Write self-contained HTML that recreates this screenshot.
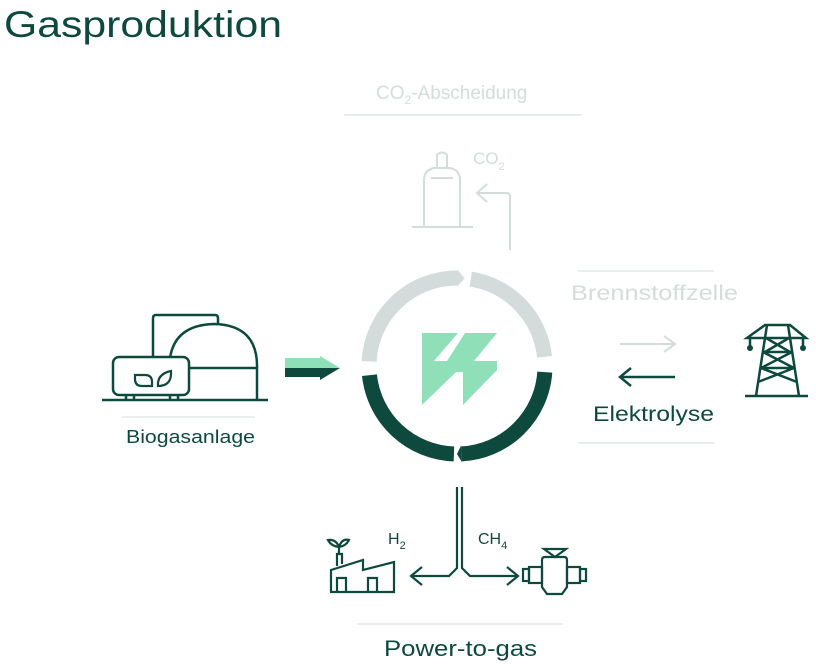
<!DOCTYPE html>
<html><head><meta charset="utf-8"><style>
html,body{margin:0;padding:0;background:#fff;}
svg{display:block}
text{font-family:"Liberation Sans",sans-serif}
</style></head><body>
<svg id="s" width="816" height="669" viewBox="0 0 816 669" xmlns="http://www.w3.org/2000/svg">
<text x="4" y="37" font-size="37" fill="#0d4a3d" textLength="278" lengthAdjust="spacingAndGlyphs">Gasproduktion</text>

<g fill="#d5dddb" stroke="none">
<text x="376" y="99" font-size="19">CO<tspan font-size="12" dy="5">2</tspan><tspan dy="-5">-Abscheidung</tspan></text>
<text x="473" y="164" font-size="17">CO<tspan font-size="11" dy="6">2</tspan></text>
</g>
<line x1="344" y1="115" x2="582" y2="115" stroke="#e3e8e7" stroke-width="1.5"/>
<g fill="none" stroke="#d5dddb" stroke-width="2">
<path d="M424,228 V180 Q424,170 434,168 H450 Q460,170 460,180 V228"/>
<line x1="412" y1="227" x2="473" y2="227"/>
<line x1="431" y1="178" x2="453" y2="178"/>
<path d="M437,167 V155 Q442,150 447,155 V167"/>
<path d="M510,250 V196 Q510,193 506,193 H478"/>
<path d="M487,184 L477,193 L487,202"/>
</g>

<line x1="578" y1="271" x2="714" y2="271" stroke="#e3e8e7" stroke-width="1.5"/>
<text x="571" y="300" font-size="21" fill="#d5dddb" textLength="167" lengthAdjust="spacingAndGlyphs">Brennstoffzelle</text>
<line x1="620" y1="344" x2="675" y2="344" stroke="#d5dddb" stroke-width="2"/>
<path d="M664,336 L675,344 L664,352" fill="none" stroke="#d5dddb" stroke-width="2"/>
<line x1="620" y1="377" x2="675" y2="377" stroke="#0d4a3d" stroke-width="2.5"/>
<path d="M631,368 L620,377 L631,386" fill="none" stroke="#0d4a3d" stroke-width="2.5"/>
<text x="593" y="421" font-size="21" fill="#0d4a3d" textLength="121" lengthAdjust="spacingAndGlyphs">Elektrolyse</text>
<line x1="578" y1="443" x2="714" y2="443" stroke="#e3e8e7" stroke-width="1.5"/>

<g fill="none" stroke="#0d4a3d" stroke-width="2.5">
<line x1="745" y1="396" x2="808" y2="396"/>
<path d="M765,325 H790 L806,338 H747 Z"/>
<line x1="750" y1="338" x2="750" y2="346"/>
<line x1="803" y1="338" x2="803" y2="346"/>
<path d="M767,325 L756,396 M788,325 L799,396"/>
<path d="M766,338 L790,352 M789,338 L765,352"/>
<path d="M763,352 H792 M763,352 L794,368 M792,352 L761,368 M761,368 H794 M761,368 L797,382 M794,368 L758,382"/>
</g>
<circle cx="750" cy="348" r="3" fill="#0d4a3d"/>
<circle cx="803" cy="348" r="3" fill="#0d4a3d"/>

<g fill="none" stroke="#0d4a3d" stroke-width="2.5">
<line x1="102" y1="400" x2="268" y2="400"/>
<path d="M153,358 V318 Q153,315 156,315 H215 Q218,315 218,318 V324"/>
<path d="M170,358 Q175,325 214,324 Q258,325 257,368 V400"/>
<line x1="190" y1="368" x2="257" y2="368"/>
<rect x="113" y="357" width="76" height="38" rx="6" fill="#fff"/>
<path d="M126,395 V400 M134,395 V400 M170,395 V400 M178,395 V400"/>
<path d="M135,375 H145 Q152,375 152,382 V386 H142 Q135,386 135,379 Z" stroke-width="2.2"/>
<path d="M158,386 Q157,374 171,371 Q172,386 158,386 Z" stroke-width="2.2"/>
</g>
<line x1="122" y1="417" x2="255" y2="417" stroke="#e3e8e7" stroke-width="1.5"/>
<text x="126" y="443" font-size="18" fill="#0d4a3d" textLength="129" lengthAdjust="spacingAndGlyphs">Biogasanlage</text>

<polygon points="285,358 320,358 320,356 340,368 320,368 285,368" fill="#8fe0b8"/>
<polygon points="285,368 340,368 320,380 320,377 285,377" fill="#0d4a3d"/>

<g id="ring"></g>
<g fill="#8fe0b8">
<polygon points="422,333 458,333 434,361 456,361 456,372 422,405"/>
<polygon points="465,333 497,333 474,361 497,361 497,370 463,405 463,372 440,372"/>
</g>

<g fill="none" stroke="#0d4a3d" stroke-width="2.2">
<path d="M457,487 V568 L449,576 H411"/>
<path d="M462,487 V568 L470,576 H518"/>
<path d="M422,567 L411,576 L422,585"/>
<path d="M507,567 L518,576 L507,585"/>
<path d="M331,592 V570 L363,560 V570 L394,562 V592 Z"/>
<path d="M337,592 V578 H346 V592 M368,592 V578 H377 V592"/>
<path d="M337,566 V554 H342 V564"/>
<path d="M339,554 V547"/>
<path d="M339,547 Q331,546 328,540 Q336,539 339,547 Q342,538 349,540 Q346,546 339,547"/>
<path d="M544,549 H566 L555,557 Z"/>
<path d="M542,560 Q542,557 545,557 H564 Q567,557 567,560 V587 L562,594 H547 L542,587 Z"/>
<rect x="529" y="567" width="13" height="16"/>
<rect x="523" y="569" width="6" height="12"/>
<rect x="567" y="567" width="13" height="16"/>
<rect x="580" y="569" width="6" height="12"/>
</g>
<text x="388" y="544" font-size="16" fill="#0d4a3d">H<tspan font-size="11" dy="5">2</tspan></text>
<text x="478" y="544" font-size="16" fill="#0d4a3d">CH<tspan font-size="11" dy="5">4</tspan></text>
<line x1="357" y1="624" x2="563" y2="624" stroke="#e3e8e7" stroke-width="1.5"/>
<text x="384" y="656" font-size="22" fill="#0d4a3d" textLength="153" lengthAdjust="spacingAndGlyphs">Power-to-gas</text>
</svg>
<script>
(function(){
var cx=457,cy=366,r=88,w=15,g=document.getElementById('ring'),NS='http://www.w3.org/2000/svg';
function P(a,rr){var t=a*Math.PI/180;return [cx+rr*Math.cos(t),cy+rr*Math.sin(t)];}
function arc(a1,a2,tip,col){
 var p1=P(a1,r),p2=P(a2,r),large=Math.abs(a2-a1)>180?1:0,sw=a2>a1?1:0;
 var e=document.createElementNS(NS,'path');
 e.setAttribute('d','M'+p1+' A'+r+','+r+' 0 '+large+','+sw+' '+p2);
 e.setAttribute('fill','none');e.setAttribute('stroke',col);e.setAttribute('stroke-width',w);
 g.appendChild(e);
 if(tip!==null){var a=P(a2,r-w/2-1),b=P(a2,r+w/2+1),c=P(tip,r);
  var q=document.createElementNS(NS,'polygon');q.setAttribute('points',a+' '+b+' '+c);q.setAttribute('fill',col);g.appendChild(q);}
}
arc(183,270,275,'#d3dcda');
arc(279,354,null,'#d3dcda');
arc(4,87,90,'#0d4a3d');
arc(92,174,null,'#0d4a3d');
})();
</script>
</body></html>
